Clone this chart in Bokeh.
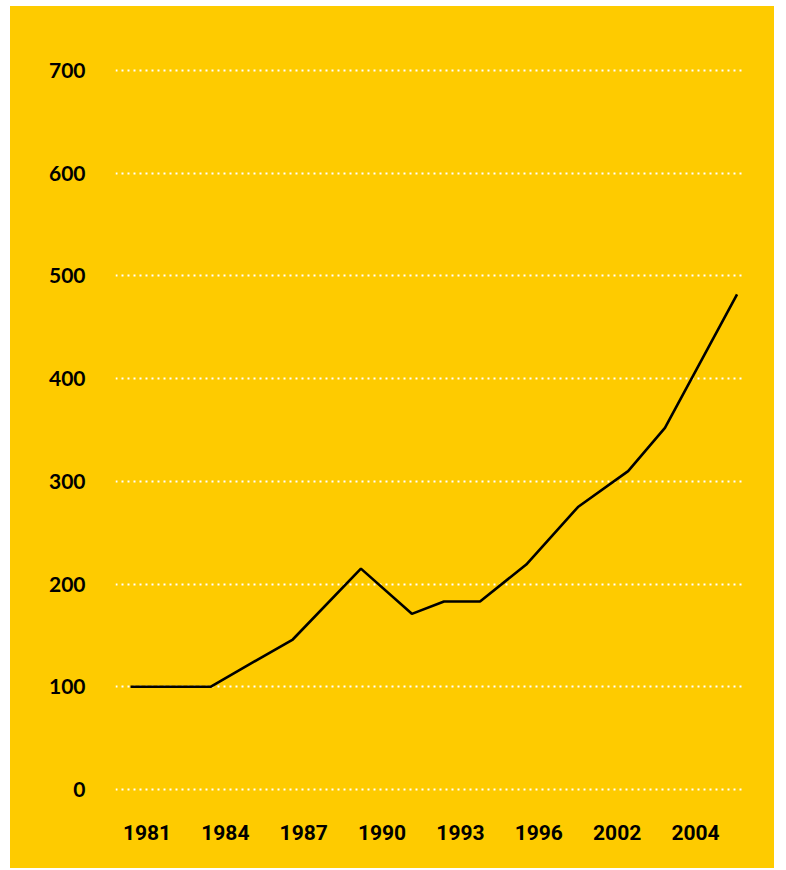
from bokeh.plotting import figure
from bokeh.models import FixedTicker, Spacer
from bokeh.layouts import row, column
from bokeh.embed import file_html
from bokeh.resources import INLINE

# tick labels on the x axis (evenly spaced categories)
x_labels = ["1981", "1984", "1987", "1990", "1993", "1996", "2002", "2004"]
# positions of line vertices in label-index units
line_x = [-0.21, 0.81, 1.86, 2.73, 3.38, 3.79, 4.25, 4.84, 5.50, 6.14, 6.61, 7.53]
line_y = [100, 100, 146, 215, 171, 183, 183, 219, 275, 310, 352, 482]
y_ticks = [0, 100, 200, 300, 400, 500, 600, 700]

YELLOW = "#FECB00"

p = figure(width=764, height=862, output_backend="svg", toolbar_location=None,
           x_range=(-0.402, 7.638), y_range=(-15.6, 729.2),
           min_border_left=105, min_border_right=29, min_border_top=34, min_border_bottom=63)
p.background_fill_color = None
p.border_fill_color = None
p.styles = {"background-color": YELLOW}
p.outline_line_color = None

p.line(line_x, line_y, line_color="black", line_width=2.6)

p.xaxis.ticker = FixedTicker(ticks=list(range(len(x_labels))))
p.xaxis.major_label_overrides = {i: s for i, s in enumerate(x_labels)}
p.yaxis.ticker = FixedTicker(ticks=y_ticks)

for ax in (p.xaxis, p.yaxis):
    ax.axis_line_color = None
    ax.major_tick_line_color = None
    ax.minor_tick_line_color = None
    ax.major_label_text_color = "black"
    ax.major_label_text_font_style = "bold"
p.yaxis.major_label_text_font = "Lato"
p.yaxis.major_label_text_font_size = "21px"
p.yaxis.major_label_standoff = 24
p.xaxis.major_label_text_font = "Roboto"
p.xaxis.major_label_text_font_size = "21px"
p.xaxis.major_label_standoff = 13

p.xgrid.grid_line_color = None
p.ygrid.ticker = FixedTicker(ticks=y_ticks)
p.ygrid.grid_line_color = "white"
p.ygrid.grid_line_width = 2
p.ygrid.grid_line_dash = "2 4"

layout = row(Spacer(width=10), column(Spacer(height=6), p))
open("out.html", "w").write(file_html(layout, INLINE))
